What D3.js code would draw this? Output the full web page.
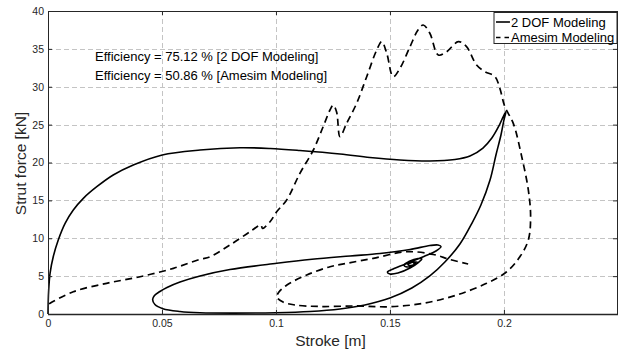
<!DOCTYPE html>
<html>
<head>
<meta charset="utf-8">
<script src="https://cdn.jsdelivr.net/npm/d3@7"></script>
<style>
  body { margin: 0; background: #fff; }
  svg { font-family: "Liberation Sans", Arial, sans-serif; }
</style>
</head>
<body>
<div id="holder"></div>
<script>
// stroke [m] / strut force [kN]
var strokeDof = [0, 0.0001, 0.0003, 0.0009, 0.0023, 0.0045, 0.0075, 0.0111, 0.0155, 0.0214, 0.0286, 0.0374, 0.0501, 0.0667, 0.0842, 0.0974, 0.1105, 0.1281, 0.1412, 0.1544, 0.1675, 0.1785, 0.1851, 0.1908, 0.1947, 0.1978, 0.1996, 0.2009,
  0.2000, 0.1987, 0.1965, 0.1939, 0.1899, 0.1860, 0.1807, 0.1741, 0.1675, 0.1596, 0.1500, 0.1390, 0.1281, 0.1149, 0.1000, 0.0811, 0.0667, 0.0579, 0.0504, 0.0469, 0.0459, 0.0467, 0.0491, 0.0522, 0.0579, 0.0667, 0.0798, 0.1004, 0.1158, 0.1325, 0.1456, 0.1588, 0.1675, 0.1711, 0.1724,
  0.1702, 0.1649, 0.1579, 0.1518, 0.1489, 0.1500, 0.1535, 0.1588, 0.1627, 0.1640, 0.1623, 0.1583, 0.1561, 0.1575, 0.1605, 0.1623, 0.1601, 0.1579, 0.1592, 0.1614, 0.1601];
var forceDof = [0, 1.6, 3.17, 5.37, 7.56, 9.77, 11.97, 13.73, 15.27, 16.8, 18.35, 19.67, 21.0, 21.65, 21.95, 21.85, 21.58, 21.12, 20.66, 20.33, 20.2, 20.4, 20.86, 21.91, 23.23, 24.82, 26.0, 26.73,
  25.6, 23.63, 20.99, 17.69, 14.39, 12.01, 9.24, 6.86, 5.02, 3.43, 2.11, 1.19, 0.66, 0.33, 0.17, 0.11, 0.16, 0.33, 0.70, 1.25, 1.91, 2.44, 2.97, 3.5, 4.22, 5.02, 5.87, 6.69, 7.22, 7.66, 7.99, 8.51, 9.04, 9.11, 8.91,
  8.32, 7.59, 6.73, 6.01, 5.54, 5.28, 5.41, 6.07, 6.86, 7.26, 7.33, 6.93, 6.47, 6.2, 6.47, 6.8, 6.86, 6.53, 6.4, 6.67, 6.73];

var strokeAmesim = [0.0005, 0.0009, 0.0111, 0.0257, 0.0404, 0.055, 0.0667, 0.0711, 0.0798, 0.0886, 0.0934, 0.0941, 0.0974, 0.1003, 0.1047, 0.1105, 0.1164, 0.1207, 0.1237, 0.1251, 0.1266, 0.1281, 0.131, 0.1354, 0.1398, 0.1442, 0.1464, 0.1486, 0.1514, 0.1544, 0.1588, 0.1623, 0.1646, 0.1675, 0.1712, 0.1749, 0.18, 0.1836, 0.188, 0.1917, 0.1961, 0.1982, 0.2004,
  0.2041, 0.2078, 0.2107, 0.2117, 0.2107, 0.207, 0.2012, 0.1924, 0.1793, 0.1646, 0.15, 0.1354, 0.1193, 0.1083, 0.1031, 0.1004, 0.1013, 0.1048, 0.1135, 0.1237, 0.131, 0.1427, 0.1573, 0.169, 0.1763, 0.1843];
var forceAmesim = [1.32, 1.41, 2.94, 4.05, 4.92, 6.03, 7.22, 7.56, 9.11, 10.86, 11.75, 11.29, 12.18, 13.5, 15.05, 18.57, 21.65, 24.73, 26.93, 27.59, 26.67, 23.41, 25.17, 27.82, 31.33, 34.85, 35.95, 34.42, 31.33, 32.44, 35.29, 37.49, 38.15, 37.06, 34.19, 34.63, 35.95, 35.29, 32.87, 31.99, 31.33, 29.8, 27.37,
  25.17, 20.77, 16.37, 12.84, 9.77, 7.56, 5.58, 4.05, 2.51, 1.41, 0.96, 1.06, 0.99, 1.19, 1.58, 2.24, 2.9, 3.83, 5.15, 6.24, 6.69, 7.35, 8.22, 7.86, 7.19, 6.6];

var xTicks = [0, 0.05, 0.1, 0.15, 0.2];
var yTicks = [0, 5, 10, 15, 20, 25, 30, 35, 40];
var seriesNames = ["2 DOF Modeling", "Amesim Modeling"];
var notes = ["Efficiency = 75.12 % [2 DOF Modeling]", "Efficiency = 50.86 % [Amesim Modeling]"];

var fullWidth = 624;
var fullHeight = 352;
var margin = {top: 11, right: 7, bottom: 38, left: 48};
var width = fullWidth - margin.left - margin.right;
var height = fullHeight - margin.top - margin.bottom;
var ink = "#262626";

var svg = d3.select("#holder").append("svg")
  .attr("width", fullWidth)
  .attr("height", fullHeight)
  .append("g")
    .attr("transform", "translate(" + margin.left + "," + margin.top + ")");

var xScale = d3.scaleLinear().domain([0, 0.2496]).range([0, width]);
var yScale = d3.scaleLinear().domain([0, 40]).range([height, 0]);

// grid
var grid = svg.append("g").attr("stroke", "#c4c4c4").attr("stroke-dasharray", "5,3").attr("stroke-width", 1);
grid.selectAll(".gx").data(xTicks.filter(function(d){ return d > 0; }))
  .enter().append("line")
  .attr("x1", function(d){ return Math.round(xScale(d)) + 0.5; })
  .attr("x2", function(d){ return Math.round(xScale(d)) + 0.5; })
  .attr("y1", 0).attr("y2", height);
grid.selectAll(".gy").data(yTicks.filter(function(d){ return d > 0 && d < 40; }))
  .enter().append("line")
  .attr("y1", function(d){ return Math.round(yScale(d)) + 0.5; })
  .attr("y2", function(d){ return Math.round(yScale(d)) + 0.5; })
  .attr("x1", 0).attr("x2", width);

// curves
var line = d3.line()
  .x(function(d){ return xScale(d[0]); })
  .y(function(d){ return yScale(d[1]); })
  .curve(d3.curveCatmullRom.alpha(0.5));

svg.append("path")
  .datum(d3.zip(strokeDof, forceDof))
  .attr("d", line)
  .attr("fill", "none")
  .attr("stroke", "#000")
  .attr("stroke-width", 1.6);

svg.append("path")
  .datum(d3.zip(strokeAmesim, forceAmesim))
  .attr("d", line)
  .attr("fill", "none")
  .attr("stroke", "#000")
  .attr("stroke-width", 1.7)
  .attr("stroke-dasharray", "7,4.5");

// axes, ticks inside on all four sides
svg.append("g")
  .attr("transform", "translate(0," + height + ")")
  .call(d3.axisBottom(xScale).tickValues(xTicks).tickSize(-4).tickPadding(6).tickFormat(function(d){ return String(d); }));
svg.append("g")
  .call(d3.axisTop(xScale).tickValues(xTicks).tickSize(-4).tickFormat(""));
svg.append("g")
  .call(d3.axisLeft(yScale).tickValues(yTicks).tickSize(-4).tickPadding(4));
svg.append("g")
  .attr("transform", "translate(" + width + ",0)")
  .call(d3.axisRight(yScale).tickValues(yTicks).tickSize(-4).tickFormat(""));

svg.selectAll(".domain").remove();
svg.selectAll(".tick line").attr("stroke", ink);
svg.selectAll(".tick text").attr("fill", ink).style("font-size", "10.5px");

svg.append("rect")
  .attr("x", 0.5).attr("y", 0.5)
  .attr("width", width).attr("height", height)
  .attr("fill", "none")
  .attr("stroke", ink)
  .attr("stroke-width", 1);
svg.append("line")
  .attr("x1", 0).attr("x2", width + 1)
  .attr("y1", height + 0.5).attr("y2", height + 0.5)
  .attr("stroke", ink).attr("stroke-width", 1.5);

// axis labels
svg.append("text")
  .attr("x", width / 2 - 2)
  .attr("y", height + 32)
  .attr("text-anchor", "middle")
  .attr("fill", ink)
  .style("font-size", "15.5px")
  .text("Stroke [m]");
svg.append("text")
  .attr("transform", "translate(" + (-22) + "," + (yScale(20) + 1) + ") rotate(-90)")
  .attr("text-anchor", "middle")
  .attr("fill", ink)
  .style("font-size", "15.5px")
  .text("Strut force [kN]");

// efficiency notes
svg.selectAll(".note").data(notes)
  .enter().append("text")
  .attr("class", "note")
  .attr("x", 47)
  .attr("y", function(d, i){ return 49.5 + i * 19; })
  .attr("fill", "#000")
  .style("font-size", "13px")
  .text(function(d){ return d; });

// legend
var legend = svg.append("g").attr("transform", "translate(" + (width - 123) + ",1.5)");
legend.append("rect")
  .attr("width", 123).attr("height", 31)
  .attr("fill", "#fff")
  .attr("stroke", ink).attr("stroke-width", 1);
var entries = legend.selectAll(".entry").data(seriesNames)
  .enter().append("g")
  .attr("transform", function(d, i){ return "translate(0," + (9.5 + i * 15.5) + ")"; });
entries.append("line")
  .attr("x1", 2).attr("x2", 16)
  .attr("stroke", "#000").attr("stroke-width", 1.6)
  .attr("stroke-dasharray", function(d, i){ return i ? "4.5,4" : null; });
entries.append("text")
  .attr("x", 17).attr("dy", "0.36em")
  .attr("fill", "#000")
  .style("font-size", "13px")
  .text(function(d){ return d; });
</script>
</body>
</html>
